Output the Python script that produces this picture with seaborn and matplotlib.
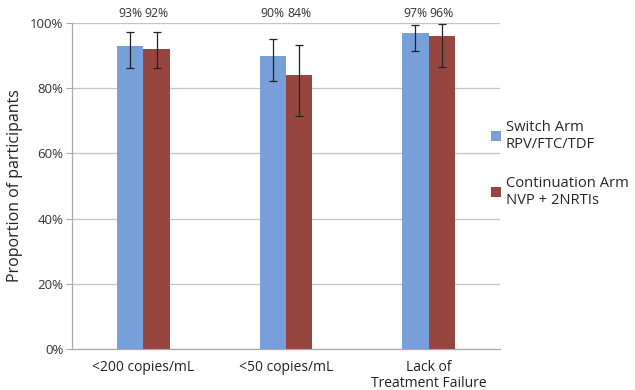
import matplotlib
matplotlib.use("Agg")
import matplotlib.pyplot as plt
import seaborn as sns
import pandas as pd
import numpy as np
from matplotlib.patches import Patch

categories = ["<200 copies/mL", "<50 copies/mL", "Lack of\nTreatment Failure"]
arms = ["Switch Arm\nRPV/FTC/TDF", "Continuation Arm\nNVP + 2NRTIs"]
switch_vals = [93, 90, 97]
cont_vals = [92, 84, 96]
switch_lo = [86.2, 82.3, 91.4]
switch_hi = [97.2, 95.1, 99.4]
cont_lo = [86.2, 71.5, 86.6]
cont_hi = [97.2, 93.2, 99.7]
yticks = [0, 20, 40, 60, 80, 100]

colors = ["#779FD9", "#97463F"]

df = pd.DataFrame({
    "cat": categories * 2,
    "arm": [arms[0]] * 3 + [arms[1]] * 3,
    "val": switch_vals + cont_vals,
})

sns.set_style("white")
plt.rcParams['font.family'] = ['Open Sans', 'DejaVu Sans']

fig = plt.figure(figsize=(6.35, 3.9), dpi=100)
ax = fig.add_axes([72/635, 1-349/390, (500-72)/635, (349-23)/390])

sns.barplot(data=df, x="cat", y="val", hue="arm", palette=colors, ax=ax,
            width=0.37, gap=0, saturation=1, legend=False, errorbar=None,
            order=categories, hue_order=arms, zorder=3, linewidth=0,
            edgecolor="none")

los = [switch_lo, cont_lo]
his = [switch_hi, cont_hi]
vals = [switch_vals, cont_vals]
patches = ax.patches
for h in range(2):
    for i in range(3):
        p = patches[h * 3 + i]
        xc = p.get_x() + p.get_width() / 2
        v = vals[h][i]
        ax.errorbar(xc, v, yerr=[[v - los[h][i]], [his[h][i] - v]], fmt="none",
                    ecolor="#222222", elinewidth=0.9, capsize=3, capthick=0.9, zorder=4)
        ax.text(xc, 101.0, f"{v}%", ha="center", va="bottom", fontsize=8.8,
                color="#333333", clip_on=False)

ax.set_ylim(0, 100)
ax.set_xlim(-0.5, 2.5)
ax.set_yticks(yticks)
ax.set_yticklabels([f"{t}%" for t in yticks], fontsize=9.5, color="#333333")
ax.tick_params(axis="y", length=4, color="#aaaaaa", width=0.8, pad=2, left=True)
ax.tick_params(axis="x", length=0, pad=8, labelsize=10, labelcolor="#222222")
for lbl in ax.get_xticklabels():
    lbl.set_linespacing(1.05)
ax.set_xlabel("")
ax.set_ylabel("Proportion of participants", fontsize=11.5, color="#222222", labelpad=5)
ax.grid(axis="y", color="#c4c4c4", linewidth=0.9, zorder=0)
ax.set_axisbelow(True)
for s in ["top", "right"]:
    ax.spines[s].set_visible(False)
for s in ["left", "bottom"]:
    ax.spines[s].set_color("#aaaaaa")
    ax.spines[s].set_linewidth(0.9)

handles = [Patch(facecolor=c, edgecolor="none") for c in colors]
fig.legend(handles, arms, loc="upper left", bbox_to_anchor=(485/635, 1-114/390),
           frameon=False, fontsize=10.6, handlelength=0.7, handleheight=0.7,
           handletextpad=0.3, labelspacing=1.6, borderaxespad=0)

fig.savefig("out.png", dpi=100)
